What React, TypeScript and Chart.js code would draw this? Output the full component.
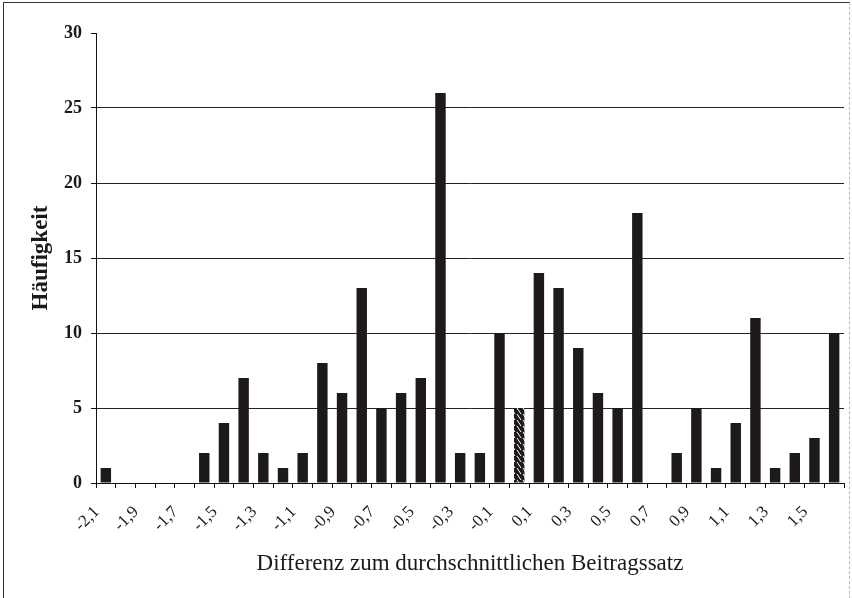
import React, { useEffect, useRef } from "react";
import { Chart, registerables } from "chart.js";

Chart.register(...registerables);

const categories = [
  "-2,1", "-2,0", "-1,9", "-1,8", "-1,7", "-1,6", "-1,5", "-1,4", "-1,3", "-1,2",
  "-1,1", "-1,0", "-0,9", "-0,8", "-0,7", "-0,6", "-0,5", "-0,4", "-0,3", "-0,2",
  "-0,1", "0,0", "0,1", "0,2", "0,3", "0,4", "0,5", "0,6", "0,7", "0,8",
  "0,9", "1,0", "1,1", "1,2", "1,3", "1,4", "1,5", "1,6",
];

const frequencies = [
  1, 0, 0, 0, 0, 2, 4, 7, 2, 1,
  2, 8, 6, 13, 5, 6, 7, 26, 2, 2,
  10, 5, 14, 13, 9, 6, 5, 18, 0, 2,
  5, 1, 4, 11, 1, 2, 3, 10,
];

const highlightedCategory = "0,0";

const yTicks = [0, 5, 10, 15, 20, 25, 30];

const FONT = "'Liberation Serif', 'Times New Roman', serif";
const BAR = "#1e1a1b";

function makeHatch(): CanvasPattern | string {
  const c = document.createElement("canvas");
  c.width = 6;
  c.height = 6;
  const g = c.getContext("2d");
  if (!g) return BAR;
  g.fillStyle = BAR;
  g.fillRect(0, 0, 6, 6);
  g.strokeStyle = "#ffffff";
  g.lineWidth = 1;
  g.beginPath();
  g.moveTo(1, 0);
  g.lineTo(5, 6);
  g.stroke();
  const p = g.createPattern(c, "repeat");
  return p || BAR;
}

export default function App() {
  const ref = useRef<HTMLCanvasElement | null>(null);

  useEffect(() => {
    document.body.style.margin = "0";
    const canvas = ref.current;
    if (!canvas) return;
    const hatch = makeHatch();
    const colors = categories.map((c) => (c === highlightedCategory ? hatch : BAR));

    const chart = new Chart(canvas, {
      type: "bar",
      data: {
        labels: categories,
        datasets: [
          {
            data: frequencies,
            backgroundColor: colors as any,
            borderWidth: 0,
            barPercentage: 0.53,
            categoryPercentage: 1,
          },
        ],
      },
      options: {
        animation: false,
        responsive: false,
        maintainAspectRatio: false,
        layout: { padding: { top: 33, right: 8, left: 0, bottom: 0 } },
        plugins: {
          legend: { display: false },
          tooltip: { enabled: false },
        },
        scales: {
          x: {
            type: "category",
            offset: true,
            afterFit: (s: any) => {
              s.height = 115;
              s.paddingLeft = 0;
              s.paddingRight = 0;
            },
            grid: {
              offset: true,
              drawOnChartArea: false,
              drawTicks: true,
              tickLength: 5,
              tickColor: "#111",
              tickWidth: 1,
            },
            border: { display: true, color: "#111", width: 1 },
            ticks: {
              autoSkip: false,
              minRotation: 45,
              maxRotation: 45,
              padding: 14,
              labelOffset: -9,
              color: "#1a1a1a",
              font: { family: FONT, size: 17 },
              callback: (_v: any, i: number) => (i % 2 === 0 ? categories[i] : ""),
            },
            title: {
              display: true,
              text: "Differenz zum durchschnittlichen Beitragssatz",
              color: "#1a1a1a",
              font: { family: FONT, size: 23 },
              padding: { top: 0, bottom: 20 },
            },
          },
          y: {
            min: yTicks[0],
            max: yTicks[yTicks.length - 1],
            afterFit: (s: any) => {
              s.width = 96;
            },
            afterBuildTicks: (s: any) => {
              s.ticks = yTicks.map((v) => ({ value: v }));
            },
            grid: {
              drawTicks: true,
              tickLength: 5,
              tickColor: "#111",
              color: (ctx: any) =>
                ctx.tick && (ctx.tick.value === 30 || ctx.tick.value === 0)
                  ? "rgba(0,0,0,0)"
                  : "#222",
              lineWidth: 1,
            },
            border: { display: true, color: "#111", width: 1 },
            ticks: {
              padding: 9,
              color: "#1a1a1a",
              font: { family: FONT, size: 18, weight: "bold" },
            },
            title: {
              display: true,
              text: "Häufigkeit",
              color: "#1a1a1a",
              font: { family: FONT, size: 23, weight: "bold" },
              padding: { top: 27, bottom: 0 },
            },
          },
        },
      },
    });
    return () => chart.destroy();
  }, []);

  return (
    <div style={{ position: "relative", width: 852, height: 598, background: "#fff" }}>
      <canvas ref={ref} width={852} height={598} style={{ display: "block" }} />
      <div
        style={{
          position: "absolute",
          left: 3,
          top: 2,
          width: 845,
          height: 596,
          borderTop: "1px solid #333",
          borderLeft: "1px solid #333",
          borderRight: "1px dashed #bbb",
          pointerEvents: "none",
        }}
      />
    </div>
  );
}
